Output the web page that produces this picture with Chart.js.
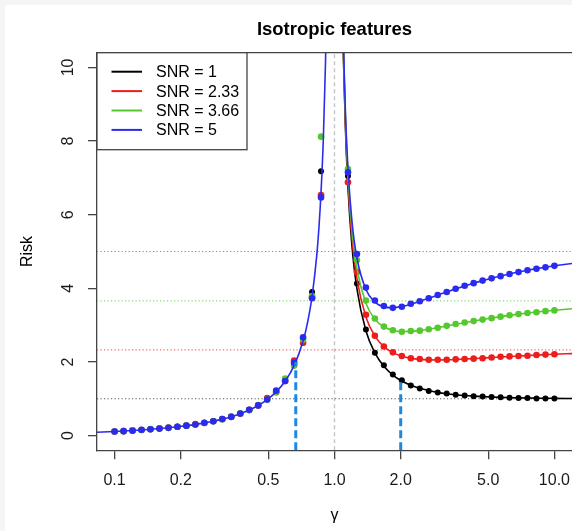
<!DOCTYPE html>
<html>
<head>
<meta charset="utf-8">
<script src="https://cdn.jsdelivr.net/npm/chart.js@4.4.1/dist/chart.umd.min.js"></script>
<style>
  html, body { margin: 0; padding: 0; background: #fff; }
  canvas { display: block; }
</style>
</head>
<body>
<canvas id="chart" width="572" height="531"></canvas>
<script>
// --- data ---
const snrLabels = ["SNR = 1", "SNR = 2.33", "SNR = 3.66", "SNR = 5"];
const snrLevels = [1, 2.33, 3.66, 5];

const xTicks = [0.1, 0.2, 0.5, 1, 2, 5, 10];
const xTickLabels = ["0.1", "0.2", "0.5", "1.0", "2.0", "5.0", "10.0"];
const yTicks = [0, 2, 4, 6, 8, 10];

// simulated points (same gamma grid for every SNR)
const gammaPts = [0.1, 0.1099, 0.1207, 0.1326, 0.1456, 0.16, 0.1758, 0.1931, 0.2121, 0.233, 0.256, 0.2812,
  0.3089, 0.3393, 0.3728, 0.4095, 0.4498, 0.4942, 0.5429, 0.5964, 0.6551, 0.7197, 0.7906, 0.8685,
  1.1514, 1.2649, 1.3895, 1.5264, 1.6768, 1.8421, 2.0236, 2.223, 2.4421, 2.6827, 2.9471, 3.2375,
  3.5565, 3.9069, 4.2919, 4.7149, 5.1795, 5.6899, 6.2506, 6.8665, 7.5431, 8.2864, 9.103, 10];
const ptsSnr1 = [0.11, 0.12, 0.14, 0.15, 0.17, 0.19, 0.21, 0.24, 0.27, 0.30, 0.35, 0.39,
  0.45, 0.50, 0.60, 0.69, 0.82, 0.98, 1.19, 1.48, 1.93, 2.52, 3.90, 7.18,
  7.05, 4.13, 2.88, 2.25, 1.91, 1.66, 1.50, 1.36, 1.28, 1.21, 1.17, 1.14,
  1.11, 1.09, 1.07, 1.06, 1.05, 1.04, 1.03, 1.02, 1.02, 1.01, 1.01, 1.01];
const ptsSnr233 = [0.11, 0.12, 0.14, 0.15, 0.17, 0.19, 0.22, 0.24, 0.27, 0.31, 0.34, 0.39,
  0.45, 0.51, 0.59, 0.70, 0.82, 1.02, 1.18, 1.49, 2.04, 2.52, 3.75, 6.53,
  6.88, 4.44, 3.28, 2.71, 2.42, 2.26, 2.16, 2.10, 2.08, 2.06, 2.06, 2.06,
  2.07, 2.08, 2.09, 2.10, 2.12, 2.14, 2.15, 2.16, 2.17, 2.19, 2.20, 2.21];
const ptsSnr366 = [0.11, 0.12, 0.14, 0.15, 0.18, 0.19, 0.21, 0.24, 0.27, 0.30, 0.34, 0.39,
  0.44, 0.52, 0.60, 0.69, 0.83, 0.97, 1.18, 1.55, 1.90, 2.60, 3.79, 8.12,
  7.24, 4.77, 3.67, 3.18, 2.96, 2.86, 2.82, 2.84, 2.85, 2.89, 2.93, 2.98,
  3.03, 3.07, 3.11, 3.15, 3.19, 3.23, 3.27, 3.30, 3.33, 3.35, 3.38, 3.40];
const ptsSnr5 = [0.11, 0.12, 0.13, 0.16, 0.17, 0.19, 0.21, 0.24, 0.27, 0.30, 0.35, 0.39,
  0.45, 0.51, 0.60, 0.70, 0.82, 0.98, 1.22, 1.48, 1.98, 2.67, 3.73, 6.47,
  7.15, 4.93, 4.02, 3.67, 3.52, 3.47, 3.50, 3.58, 3.65, 3.73, 3.82, 3.90,
  3.99, 4.07, 4.14, 4.21, 4.27, 4.33, 4.39, 4.44, 4.49, 4.53, 4.57, 4.61];

// limiting risk curves
const gammaLeft = [0.0832, 0.1, 0.1099, 0.1207, 0.1326, 0.1456, 0.16, 0.1758, 0.1931, 0.2121, 0.233, 0.256,
  0.2812, 0.3089, 0.3393, 0.3728, 0.4095, 0.4498, 0.4942, 0.5429, 0.5964, 0.6551, 0.7197, 0.755,
  0.7906, 0.83, 0.85, 0.8685, 0.89, 0.91, 0.93];
const riskLeft = [0.0908, 0.1111, 0.1234, 0.1372, 0.1528, 0.1705, 0.1905, 0.2132, 0.2393, 0.2692, 0.3038, 0.344,
  0.3912, 0.4469, 0.5136, 0.5943, 0.6935, 0.8177, 0.9769, 1.1876, 1.4774, 1.8997, 2.5675, 3.082,
  3.7756, 4.882, 5.667, 6.605, 8.091, 10.111, 13.286];
const gammaRight = [1.08, 1.1, 1.12, 1.1514, 1.2, 1.2649, 1.3895, 1.5264, 1.6768, 1.8421, 2.0236, 2.223,
  2.4421, 2.6827, 2.9471, 3.2375, 3.5565, 3.9069, 4.2919, 4.7149, 5.1795, 5.6899, 6.2506, 6.8665,
  7.5431, 8.2864, 9.103, 10, 12.02];
const riskRightSnr1 = [12.574, 10.091, 8.44, 6.736, 5.167, 3.985, 2.848, 2.244, 1.881, 1.645, 1.483, 1.368,
  1.284, 1.222, 1.174, 1.138, 1.11, 1.088, 1.071, 1.057, 1.046, 1.037, 1.031, 1.025,
  1.02, 1.016, 1.014, 1.011, 1.008];
const riskRightSnr233 = [12.673, 10.212, 8.583, 6.911, 5.388, 4.263, 3.22, 2.703, 2.418, 2.253, 2.156, 2.1,
  2.069, 2.056, 2.053, 2.057, 2.066, 2.078, 2.091, 2.105, 2.119, 2.134, 2.148, 2.161,
  2.174, 2.186, 2.197, 2.208, 2.227];
const riskRightSnr366 = [12.771, 10.333, 8.726, 7.086, 5.61, 4.542, 3.593, 3.162, 2.955, 2.861, 2.828, 2.831,
  2.855, 2.89, 2.932, 2.976, 3.022, 3.067, 3.111, 3.153, 3.193, 3.23, 3.265, 3.297,
  3.328, 3.356, 3.381, 3.405, 3.446];
const riskRightSnr5 = [12.87, 10.455, 8.869, 7.262, 5.833, 4.823, 3.969, 3.624, 3.496, 3.473, 3.506, 3.568,
  3.646, 3.73, 3.817, 3.903, 3.985, 4.064, 4.139, 4.209, 4.274, 4.335, 4.391, 4.442,
  4.49, 4.534, 4.574, 4.611, 4.675];

// blue dashed markers at gamma = 2/3 and gamma = 2
const markGamma = [0.6667, 2];
const markRisk = [2, 1.5];

const X_MIN = 0.0832, X_MAX = 12.02, Y_MIN = -0.4, Y_MAX = 10.4;

// --- styles ---
const colors = ["#000000", "#ee1d1d", "#55c82e", "#2b2bf0"];
const refColors = ["#555555", "#f26a6a", "#7fd96a", "#7a7af5"];
const FONT = "'Liberation Sans', Arial, Helvetica, sans-serif";
Chart.defaults.font.family = FONT;

const xy = (xs, ys) => xs.map((x, i) => ({ x, y: ys[i] }));
const ptSeries = [ptsSnr1, ptsSnr233, ptsSnr366, ptsSnr5];
const rightSeries = [riskRightSnr1, riskRightSnr233, riskRightSnr366, riskRightSnr5];

const datasets = [];

// horizontal dotted reference lines at each SNR
snrLevels.forEach((s, i) => {
  datasets.push({
    data: [{ x: X_MIN, y: s }, { x: X_MAX, y: s }],
    borderColor: refColors[i], borderWidth: 1.2, borderDash: [1.2, 2.3],
    pointRadius: 0, order: 30
  });
});
// vertical grey dashed line at gamma = 1
datasets.push({
  data: [{ x: 1, y: Y_MIN }, { x: 1, y: Y_MAX }],
  borderColor: "#c4c4c4", borderWidth: 1.4, borderDash: [4, 3],
  pointRadius: 0, order: 29
});

// curves + points, black first, blue last (on top)
for (let i = 0; i < 4; i++) {
  const base = 20 - i * 4;
  datasets.push({
    data: xy(gammaRight, rightSeries[i]),
    borderColor: colors[i], borderWidth: 1.6, pointRadius: 0,
    cubicInterpolationMode: "monotone", order: base
  });
  if (i === 3) {
    datasets.push({
      data: xy(gammaLeft, riskLeft),
      borderColor: colors[i], borderWidth: 1.6, pointRadius: 0,
      cubicInterpolationMode: "monotone", order: base
    });
  }
  datasets.push({
    data: xy(gammaPts, ptSeries[i]),
    showLine: false, pointRadius: i === 0 ? 3 : 3.3, pointBorderWidth: 0,
    pointBackgroundColor: colors[i], order: base - 1
  });
}

// thick dashed blue markers
markGamma.forEach((g, i) => {
  datasets.push({
    data: [{ x: g, y: Y_MIN }, { x: g, y: markRisk[i] }],
    borderColor: "#1e88e0", borderWidth: 3, borderDash: [8, 4],
    pointRadius: 0, order: 1
  });
});

// title, legend, top frame, outer grey strip
const decor = {
  id: "decor",
  beforeDraw(chart) {
    const { ctx, width, height } = chart;
    ctx.save();
    ctx.fillStyle = "#ffffff";
    ctx.fillRect(0, 0, width, height);
    ctx.fillStyle = "#f5f5f5";
    ctx.fillRect(0, 0, width, 5);
    ctx.fillRect(0, 0, 5, height);
    ctx.restore();
  },
  afterDraw(chart) {
    const { ctx, chartArea: ca } = chart;
    ctx.save();
    // top frame line
    ctx.strokeStyle = "#444";
    ctx.lineWidth = 1.3;
    ctx.beginPath();
    ctx.moveTo(ca.left, ca.top);
    ctx.lineTo(ca.right, ca.top);
    ctx.stroke();

    // title
    ctx.fillStyle = "#000";
    ctx.font = "bold 18.5px " + FONT;
    ctx.textAlign = "center";
    ctx.textBaseline = "middle";
    ctx.fillText("Isotropic features", (ca.left + ca.right) / 2, 29.5);

    // legend box
    const lx = ca.left, ly = ca.top, lw = 150, lh = 97;
    ctx.fillStyle = "#fff";
    ctx.fillRect(lx, ly, lw, lh);
    ctx.strokeStyle = "#444";
    ctx.lineWidth = 1.3;
    ctx.strokeRect(lx, ly, lw, lh);
    ctx.font = "16px " + FONT;
    ctx.textAlign = "left";
    ctx.textBaseline = "middle";
    snrLabels.forEach((lab, i) => {
      const y = ly + 19 + i * 19.4;
      ctx.strokeStyle = colors[i];
      ctx.lineWidth = 2;
      ctx.beginPath();
      ctx.moveTo(lx + 14.5, y);
      ctx.lineTo(lx + 45, y);
      ctx.stroke();
      ctx.fillStyle = "#000";
      ctx.fillText(lab, lx + 59, y + 1);
    });
    ctx.restore();
  }
};

new Chart(document.getElementById("chart"), {
  type: "line",
  data: { datasets },
  plugins: [decor],
  options: {
    responsive: false,
    animation: false,
    events: [],
    layout: { autoPadding: false, padding: { top: 52.7, right: 0, left: 0, bottom: 0 } },
    plugins: { legend: { display: false }, tooltip: { enabled: false }, title: { display: false } },
    scales: {
      x: {
        type: "logarithmic",
        min: X_MIN, max: X_MAX,
        afterBuildTicks: (s) => { s.ticks = xTicks.map(v => ({ value: v })); },
        afterFit: (s) => { s.height = 80.7; s.paddingLeft = 0; s.paddingRight = 0; },
        ticks: {
          autoSkip: false, maxRotation: 0, minRotation: 0, padding: 12,
          color: "#1a1a1a", font: { size: 16 },
          callback: (v) => xTickLabels[xTicks.indexOf(v)]
        },
        grid: { drawOnChartArea: false, drawTicks: true, tickLength: 9, color: "#444", lineWidth: 1.3 },
        border: { display: true, color: "#444", width: 1.3 },
        title: { display: true, text: "γ", color: "#000", font: { size: 16 }, padding: { top: 0, bottom: 6 } }
      },
      y: {
        type: "linear",
        min: Y_MIN, max: Y_MAX,
        afterBuildTicks: (s) => { s.ticks = yTicks.map(v => ({ value: v })); },
        afterFit: (s) => { s.width = 97; s.paddingTop = 0; s.paddingBottom = 0; },
        ticks: {
          autoSkip: false, minRotation: 90, maxRotation: 90, crossAlign: "center", padding: 11,
          color: "#1a1a1a", font: { size: 16 },
          callback: (v) => String(v)
        },
        grid: { drawOnChartArea: false, drawTicks: true, tickLength: 9, color: "#444", lineWidth: 1.3 },
        border: { display: true, color: "#444", width: 1.3 },
        title: { display: true, text: "Risk", color: "#000", font: { size: 16 }, padding: { top: 18, bottom: 0 } }
      }
    }
  }
});
</script>
</body>
</html>
